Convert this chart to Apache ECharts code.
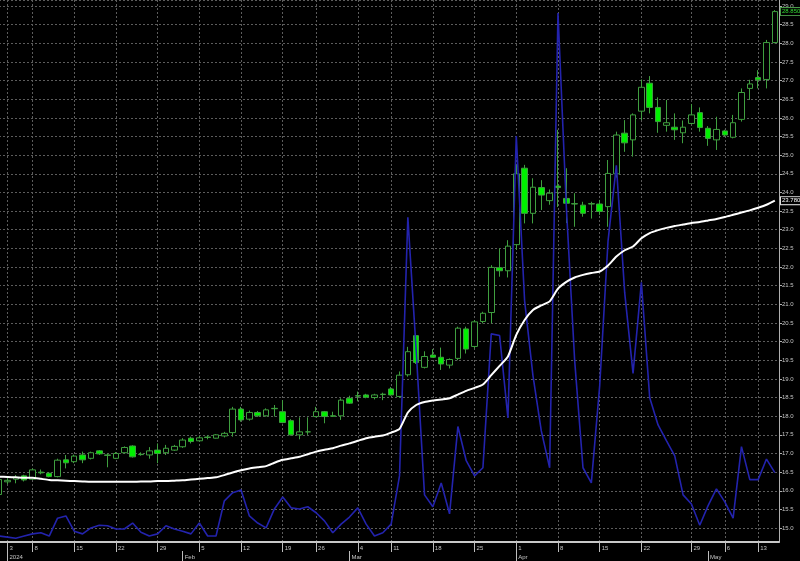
<!DOCTYPE html>
<html><head><meta charset="utf-8">
<script src="https://cdn.jsdelivr.net/npm/echarts@6/dist/echarts.min.js"></script>
<style>html,body{margin:0;padding:0;background:#000}#c{width:800px;height:561px}</style>
</head><body><div id="c"></div>
<script>
const dates = [
'2023-12-29',
'2024-01-03','2024-01-04','2024-01-05',
'2024-01-08','2024-01-09','2024-01-10','2024-01-11','2024-01-12',
'2024-01-15','2024-01-16','2024-01-17','2024-01-18','2024-01-19',
'2024-01-22','2024-01-23','2024-01-24','2024-01-25','2024-01-26',
'2024-01-29','2024-01-30','2024-01-31','2024-02-01','2024-02-02',
'2024-02-05','2024-02-06','2024-02-07','2024-02-08','2024-02-09',
'2024-02-12','2024-02-13','2024-02-14','2024-02-15','2024-02-16',
'2024-02-19','2024-02-20','2024-02-21','2024-02-22',
'2024-02-26','2024-02-27','2024-02-28','2024-02-29','2024-03-01',
'2024-03-04','2024-03-05','2024-03-06','2024-03-07',
'2024-03-11','2024-03-12','2024-03-13','2024-03-14','2024-03-15',
'2024-03-18','2024-03-19','2024-03-20','2024-03-21','2024-03-22',
'2024-03-25','2024-03-26','2024-03-27','2024-03-28','2024-03-29',
'2024-04-01','2024-04-02','2024-04-03','2024-04-04','2024-04-05',
'2024-04-08','2024-04-09','2024-04-10','2024-04-11','2024-04-12',
'2024-04-15','2024-04-16','2024-04-17','2024-04-18','2024-04-19',
'2024-04-22','2024-04-23','2024-04-24','2024-04-25','2024-04-26','2024-04-27',
'2024-04-29','2024-04-30','2024-05-02','2024-05-03',
'2024-05-06','2024-05-07','2024-05-08','2024-05-09',
'2024-05-13','2024-05-14','2024-05-15'
];
const opens = [
15.90,16.24,16.31,16.40,16.31,16.50,16.47,16.38,16.83,16.78,
16.96,16.87,17.07,16.96,16.87,17.02,17.20,16.98,16.96,17.09,
17.02,17.09,17.18,17.41,17.34,17.44,17.41,17.47,17.56,18.19,
17.92,18.10,18.01,18.21,18.12,17.88,17.50,17.58,17.99,18.12,
18.01,18.01,18.48,18.55,18.57,18.50,18.59,18.73,18.53,19.11,
20.16,19.31,19.64,19.58,19.37,19.55,20.34,19.87,20.54,20.78,
21.98,21.90,22.60,24.65,23.44,24.13,23.78,24.17,23.84,23.70,
23.66,23.70,23.69,23.62,24.50,25.59,25.41,26.18,26.93,26.28,
25.80,25.75,25.60,25.85,26.14,25.72,25.41,25.65,25.48,25.96,
26.79,27.08,27.03,28.02];
const highs = [
16.35,16.34,16.42,16.43,16.60,16.57,16.50,16.86,16.96,16.97,
17.05,17.05,17.09,17.00,17.04,17.19,17.22,17.03,17.17,17.27,
17.23,17.23,17.41,17.45,17.47,17.49,17.52,17.58,18.25,18.25,
18.15,18.14,18.21,18.30,18.43,17.92,17.97,17.97,18.25,18.14,
18.12,18.48,18.55,18.66,18.60,18.60,18.63,18.78,19.20,19.86,
20.22,19.74,19.80,19.84,19.55,20.40,20.40,20.58,20.80,22.05,
22.50,22.72,24.74,24.74,24.38,24.33,24.08,25.68,24.65,23.98,
23.75,23.75,23.80,24.87,25.63,25.94,26.12,27.03,27.12,26.55,
26.48,26.12,25.93,26.37,26.28,25.78,26.03,25.68,26.08,26.79,
27.02,27.28,28.09,28.89];
const lows = [
15.85,16.18,16.20,16.25,16.29,16.44,16.36,16.36,16.60,16.74,
16.74,16.84,16.96,16.63,16.85,17.00,16.89,16.94,16.86,16.74,
16.96,17.07,17.15,17.27,17.32,17.38,17.40,17.43,17.45,17.85,
17.88,17.98,17.99,17.99,17.81,17.48,17.38,17.50,17.97,17.81,
17.98,17.90,18.33,18.40,18.48,18.45,18.43,18.55,18.50,19.06,
19.40,19.28,19.57,19.24,19.28,19.50,19.68,19.82,20.49,20.49,
21.74,21.72,22.46,23.17,23.17,23.53,23.67,23.61,23.18,23.08,
23.35,23.30,23.40,23.08,24.40,25.09,24.96,25.94,26.12,25.60,
25.63,25.41,25.32,25.83,25.63,25.25,25.14,25.50,25.45,25.90,
26.48,26.79,26.79,28.00];
const closes = [
16.30,16.28,16.36,16.29,16.56,16.48,16.38,16.82,16.75,16.93,
16.83,17.02,16.99,16.95,17.00,17.16,16.91,16.97,17.07,17.00,
17.14,17.19,17.36,17.32,17.42,17.43,17.50,17.54,18.19,17.90,
18.10,18.01,18.17,18.20,17.83,17.50,17.58,17.58,18.12,17.99,
18.00,18.43,18.35,18.54,18.51,18.57,18.58,18.57,19.10,19.73,
19.44,19.60,19.58,19.40,19.52,20.36,19.80,20.53,20.76,21.99,
21.90,22.56,24.50,23.44,24.14,23.93,23.98,24.13,23.71,23.69,
23.44,23.69,23.49,24.51,25.54,25.33,26.08,26.82,26.28,25.90,
25.87,25.68,25.75,26.08,25.74,25.45,25.69,25.54,25.87,26.68,
26.91,27.02,28.02,28.85];
const maLine = [
16.38,16.37,16.36,16.35,16.35,16.32,16.29,16.28,16.27,16.26,
16.25,16.24,16.24,16.24,16.24,16.24,16.24,16.25,16.25,16.26,
16.26,16.27,16.28,16.30,16.32,16.34,16.36,16.42,16.49,16.55,
16.60,16.63,16.66,16.75,16.83,16.87,16.91,16.98,17.05,17.10,
17.14,17.21,17.27,17.34,17.41,17.45,17.48,17.56,17.66,18.10,
18.30,18.38,18.42,18.45,18.48,18.58,18.68,18.76,18.85,19.10,
19.35,19.60,20.18,20.58,20.85,20.97,21.08,21.42,21.60,21.72,
21.79,21.84,21.88,22.04,22.28,22.45,22.55,22.77,22.91,22.99,
23.05,23.10,23.14,23.18,23.21,23.25,23.29,23.34,23.40,23.46,
23.52,23.59,23.67,23.782];
const blueLine = [
1.1,0.9,0.7,1.1,1.5,1.7,1.1,4.4,4.8,2.0,
1.5,2.6,3.1,3.0,2.4,2.4,3.5,1.8,1.1,1.5,
3.0,2.4,2.0,1.5,3.5,1.1,1.1,7.6,9.1,9.6,
4.8,3.5,2.6,6.1,8.3,6.3,6.1,6.5,5.4,3.9,
1.7,3.3,4.6,6.3,3.3,1.1,1.7,3.3,12.2,59.9,
35.3,8.7,6.5,10.9,5.2,21.3,15.0,12.2,13.7,38.4,
38.1,22.9,74.9,44.5,30.7,20.5,13.7,97.6,61.9,33.5,
13.7,10.9,28.8,55.5,69.5,46.0,31.1,47.9,26.6,21.6,
18.7,15.9,8.7,7.0,3.1,6.7,9.8,7.4,4.4,17.6,
11.5,11.5,15.3,12.8];
const monthNames = ['Jan','Feb','Mar','Apr','May','Jun','Jul','Aug','Sep','Oct','Nov','Dec'];

const parsed = dates.map(s => new Date(s + 'T00:00:00Z'));
const weekKey = d => { const k = new Date(d); k.setUTCDate(k.getUTCDate() - ((d.getUTCDay() + 6) % 7)); return k.getTime(); };
const weekStart = parsed.map((d, i) => i > 0 && weekKey(d) !== weekKey(parsed[i - 1]));
const monthStart = parsed.map((d, i) => i > 0 && d.getUTCMonth() !== parsed[i - 1].getUTCMonth());
const candleData = dates.map((d, i) => [opens[i], closes[i], lows[i], highs[i]]);

const gridCol = '#5c5c5c';
const txtCol = '#c4c4c4';
const font = 'Liberation Sans';
const hiddenLine = {color: 'rgba(0,0,0,0)', width: 0, opacity: 1};

const chart = echarts.init(document.getElementById('c'), null, {renderer: 'canvas'});
chart.setOption({
  backgroundColor: '#000000',
  animation: false,
  grid: {left: -5, right: 21, top: 0, bottom: 19, containLabel: false, outerBoundsMode: 'none'},
  xAxis: [{
    type: 'category', data: dates, boundaryGap: true,
    axisLine: {show: true, lineStyle: {color: '#c8c8c8', width: 2}},
    axisTick: {show: true, alignWithLabel: true, length: 10, interval: (i) => weekStart[i], lineStyle: {color: '#bdbdbd'}},
    axisLabel: {interval: (i) => weekStart[i], formatter: (v) => String(new Date(v + 'T00:00:00Z').getUTCDate()),
      align: 'left', padding: [0, 0, 0, 2], margin: 3, fontSize: 6, color: txtCol, fontFamily: font},
    splitLine: {show: true, alignWithLabel: true, interval: (i) => weekStart[i], lineStyle: {color: gridCol, width: 1, type: [2, 2]}}
  }, {
    type: 'category', data: dates, boundaryGap: true, position: 'bottom', offset: 9,
    axisLine: {show: false},
    axisTick: {show: true, alignWithLabel: true, length: 10, interval: (i) => monthStart[i], lineStyle: {color: '#bdbdbd'}},
    axisLabel: {interval: (i) => monthStart[i], formatter: (v) => { const d = new Date(v + 'T00:00:00Z'); return d.getUTCMonth() === 0 ? String(d.getUTCFullYear()) : monthNames[d.getUTCMonth()]; },
      align: 'left', padding: [0, 0, 0, 2], margin: 3, fontSize: 6, color: txtCol, fontFamily: font},
    splitLine: {show: false}
  }],
  yAxis: [{
    type: 'value', position: 'right', min: 14.626, max: 29.161, minInterval: 0.5, maxInterval: 0.5,
    axisLine: {show: true, lineStyle: {color: '#b0b0b0'}},
    axisTick: {show: true, length: 3, lineStyle: {color: '#b0b0b0'}},
    axisLabel: {showMinLabel: false, showMaxLabel: false, formatter: (v) => v.toFixed(1), margin: 3,
      fontSize: 6, color: txtCol, fontFamily: font},
    splitLine: {show: true, lineStyle: {color: gridCol, width: 1, type: [2, 2]}}
  }, {
    type: 'value', min: 0, max: 100, show: false, splitLine: {show: false}
  }],
  series: [{
    type: 'candlestick', xAxisIndex: 0, yAxisIndex: 0, data: candleData, barWidth: 6,
    itemStyle: {color: '#000000', color0: '#00f000', borderColor: '#3f9f3f', borderColor0: '#3f9f3f', borderWidth: 1},
    markLine: {silent: true, symbol: ['none', 'none'], animation: false,
      lineStyle: hiddenLine,
      label: {show: true, position: 'end', distance: 2, formatter: (p) => p.value.toFixed(3), color: '#33dd33', opacity: 1,
        fontSize: 6, fontFamily: font, backgroundColor: '#000', borderColor: '#4a9a4a', borderWidth: 1, padding: [1, 1, 0, 1]},
      data: [{yAxis: closes[closes.length - 1]}]}
  }, {
    type: 'line', xAxisIndex: 0, yAxisIndex: 1, data: blueLine, symbol: 'none',
    lineStyle: {color: '#2323ad', width: 1.6}
  }, {
    type: 'line', xAxisIndex: 0, yAxisIndex: 0, data: maLine, symbol: 'none', smooth: 0.2,
    lineStyle: {color: '#ffffff', width: 2},
    markLine: {silent: true, symbol: ['none', 'none'], animation: false,
      lineStyle: hiddenLine,
      label: {show: true, position: 'end', distance: 2, formatter: (p) => p.value.toFixed(3), color: '#ffffff', opacity: 1,
        fontSize: 6, fontFamily: font, backgroundColor: '#000', borderColor: '#e0e0e0', borderWidth: 1, padding: [1, 1, 0, 1]},
      data: [{yAxis: maLine[maLine.length - 1]}]}
  }]
});
</script>
</body></html>
